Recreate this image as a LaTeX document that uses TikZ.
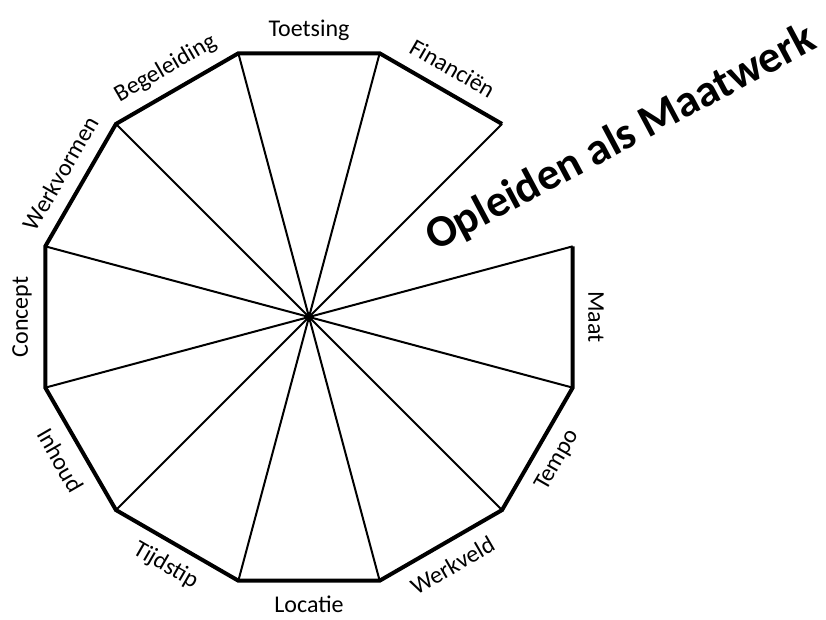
\documentclass[tikz,border=0pt]{standalone}
\usepackage{fontspec}
\setmainfont{Carlito}
\usepackage{tikz}
\usetikzlibrary{positioning}

\begin{document}
\begin{tikzpicture}[
  x=1pt, y=1pt,
  rim/.style={line width=4pt, line join=miter},
  spoke/.style={line width=2pt},
  sidelabel/.style={font=\fontsize{24}{28}\selectfont, inner sep=0pt},
  titlelabel/.style={font=\fontsize{45}{54}\selectfont\bfseries, inner sep=0pt},
]
\useasboundingbox (-309,-303) rectangle (517,317);

% Centre and corners
\coordinate (c) at (0,0);
\foreach \i in {0,...,11}
  \coordinate (v\i) at ({15-30*\i}:273);

% Spokes
\foreach \i in {0,...,11}
  \draw[spoke] (c) -- (v\i);

% Rim, open on the upper right
\draw[rim] (v0) -- (v1) -- (v2) -- (v3) -- (v4) -- (v5) -- (v6)
  -- (v7) -- (v8) -- (v9) -- (v10) -- (v11);

% Side labels
\foreach \ang/\rot/\txt/\nm in {
    0/-90/Maat/maat, -30/60/Tempo/tempo, -60/30/Werkveld/werkveld,
    -90/0/Locatie/locatie, -120/-30/Tijdstip/tijdstip, -150/-60/Inhoud/inhoud,
    180/90/Concept/concept, 150/60/Werkvormen/werkvormen,
    120/30/Begeleiding/begeleiding, 90/0/Toetsing/toetsing,
    60/-30/Financiën/financien}
  \node[sidelabel, rotate=\rot] (\nm) at (\ang:287) {\txt};

% Title
\node[titlelabel, rotate=28] (title) at (312,178) {Opleiden als Maatwerk};

\end{tikzpicture}
\end{document}
